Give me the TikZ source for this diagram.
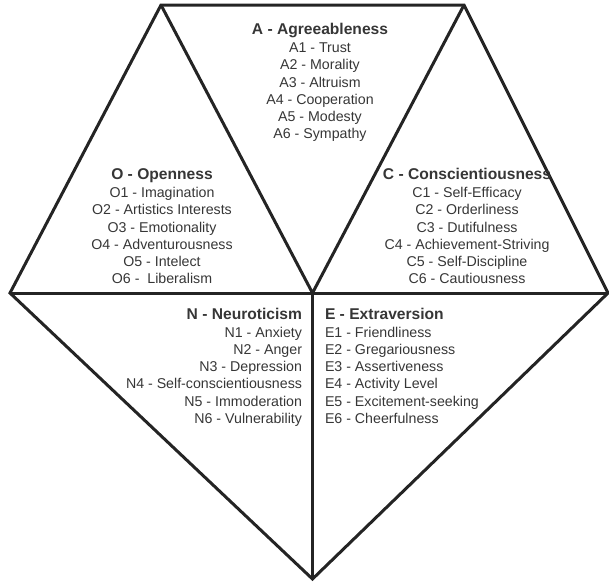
\documentclass[tikz,border=0pt]{standalone}
\usepackage{fontspec}
\setmainfont{Liberation Sans}
\definecolor{inkline}{HTML}{242424}
\definecolor{inktext}{HTML}{363636}
\tikzset{
  edge/.style={draw=inkline, line width=3pt, line join=miter, line cap=butt},
  facet/.style={inner sep=0pt, outer sep=0pt, text=inktext, font=\fontsize{15.6}{18}\selectfont\bfseries},
  trait/.style={inner sep=0pt, outer sep=0pt, text=inktext, font=\fontsize{14.2}{17}\selectfont},
}
\begin{document}
\begin{tikzpicture}[x=1pt,y=-1pt]
\useasboundingbox (0,0) rectangle (609,582);

% corner points of the five triangles
\coordinate (L)  at (10,293);
\coordinate (M)  at (312.5,293);
\coordinate (R)  at (608,293);
\coordinate (TL) at (161,5);
\coordinate (TR) at (464,5);
\coordinate (B)  at (312.5,579);

% outline and inner edges
\draw[edge] (L) -- (TL) -- (TR) -- (R) -- (B) -- cycle;
\draw[edge] (TL) -- (M) -- (TR);
\draw[edge] (L) -- (R);
\draw[edge] (M) -- (B);

% A - Agreeableness (top, centred)
\node[facet, anchor=base] (a0) at (320,34) {A - Agreeableness};
\foreach \t [count=\i] in {A1 - Trust, A2 - Morality, A3 - Altruism, A4 - Cooperation, A5 - Modesty, A6 - Sympathy}
  \node[trait, anchor=base] (a\i) at (320,{35.5+17.2*\i}) {\t};

% O - Openness (left, centred)
\node[facet, anchor=base] (o0) at (162,179) {O - Openness};
\foreach \t [count=\i] in {O1 - Imagination, O2 - Artistics Interests, O3 - Emotionality, O4 - Adventurousness, O5 - Intelect, O6 -\ \ Liberalism}
  \node[trait, anchor=base] (o\i) at (162,{180.5+17.2*\i}) {\t};

% C - Conscientiousness (right, centred)
\node[facet, anchor=base] (c0) at (467,179) {C - Conscientiousness};
\foreach \t [count=\i] in {C1 - Self-Efficacy, C2 - Orderliness, C3 - Dutifulness, C4 - Achievement-Striving, C5 - Self-Discipline, C6 - Cautiousness}
  \node[trait, anchor=base] (c\i) at (467,{180.5+17.2*\i}) {\t};

% N - Neuroticism (lower left, right aligned)
\node[facet, anchor=base east] (n0) at (302,319) {N - Neuroticism};
\foreach \t [count=\i] in {N1 - Anxiety, N2 - Anger, N3 - Depression, N4 - Self-conscientiousness, N5 - Immoderation, N6 - Vulnerability}
  \node[trait, anchor=base east] (n\i) at (302,{320+17.2*\i}) {\t};

% E - Extraversion (lower right, left aligned)
\node[facet, anchor=base west] (e0) at (325,319) {E - Extraversion};
\foreach \t [count=\i] in {E1 - Friendliness, E2 - Gregariousness, E3 - Assertiveness, E4 - Activity Level, E5 - Excitement-seeking, E6 - Cheerfulness}
  \node[trait, anchor=base west] (e\i) at (325,{320+17.2*\i}) {\t};
\end{tikzpicture}
\end{document}
